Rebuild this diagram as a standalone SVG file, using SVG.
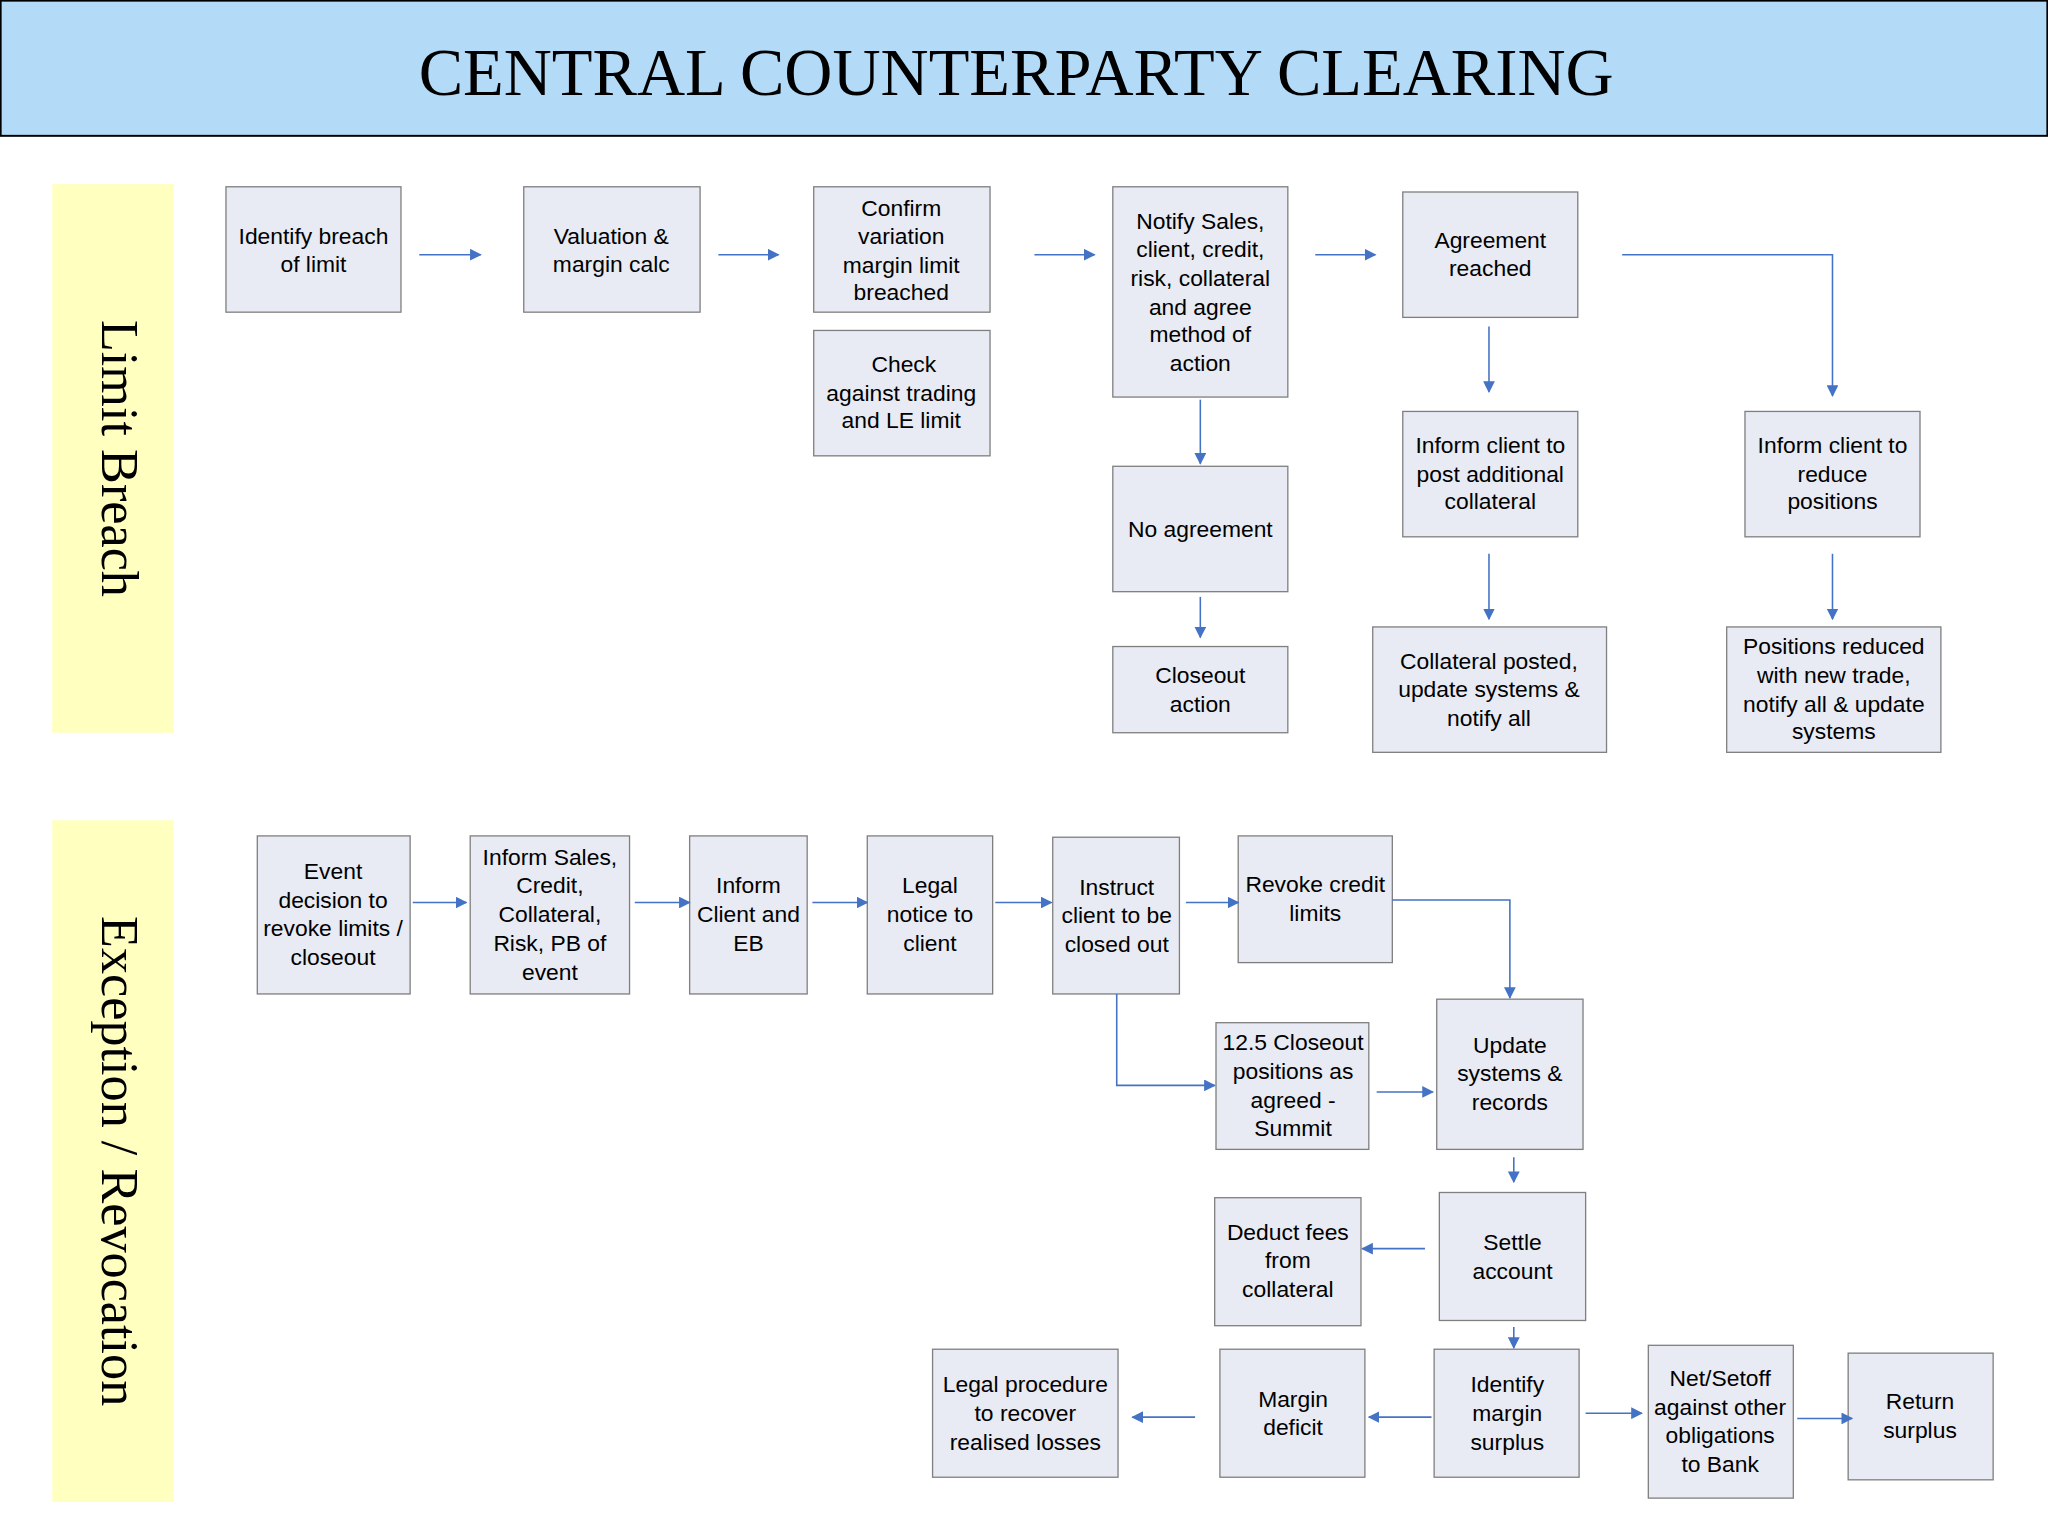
<svg xmlns="http://www.w3.org/2000/svg" width="2048" height="1536" viewBox="0 0 2048 1536">
<defs>
<marker id="a" viewBox="0 0 10 10" refX="9" refY="5" markerWidth="9" markerHeight="9" markerUnits="userSpaceOnUse" orient="auto"><path d="M0,0L10,5L0,10z" fill="#4472c4"/></marker>
<style>
.b{fill:#e8ebf3;stroke:#7f7f7f;stroke-width:1}
.t{font-family:"Liberation Sans",Arial,sans-serif;font-size:17.5px;fill:#000;text-anchor:middle}
.c{fill:none;stroke:#4472c4;stroke-width:1.2;marker-end:url(#a)}
.band{fill:#ffffc0}
.v{font-family:"Liberation Serif","Times New Roman",serif;font-size:40px;text-anchor:middle}
</style>
</defs>
<rect width="2048" height="1536" fill="#fff"/>
<g transform="scale(1.30612)">
<g id="header"><rect x="0.5" y="0.5" width="1567" height="103.5" fill="#b3daf7" stroke="#000" stroke-width="1.5"/>
<text x="778" y="73" style="font-family:'Liberation Serif','Times New Roman',serif;font-size:51px" text-anchor="middle">CENTRAL COUNTERPARTY CLEARING</text></g>
<g id="lane1"><rect class="band" x="40" y="141" width="93" height="420"/><text class="v" transform="translate(78,351) rotate(90)">Limit Breach</text></g>
<g id="lane2"><rect class="band" x="40" y="628" width="93" height="522"/><text class="v" transform="translate(78,889) rotate(90)">Exception / Revocation</text></g>

<g id="n1"><rect class="b" x="173" y="143" width="134" height="96"/><text class="t" x="240" y="187">Identify breach</text><text class="t" x="240" y="208">of limit</text></g>
<g id="n2"><rect class="b" x="401" y="143" width="135" height="96"/><text class="t" x="468" y="187">Valuation &amp;</text><text class="t" x="468" y="208">margin calc</text></g>
<g id="n3"><rect class="b" x="623" y="143" width="135" height="96"/><text class="t" x="690" y="165">Confirm</text><text class="t" x="690" y="187">variation</text><text class="t" x="690" y="209">margin limit</text><text class="t" x="690" y="230">breached</text></g>
<g id="n4"><rect class="b" x="623" y="253" width="135" height="96"/><text class="t" x="692" y="285">Check</text><text class="t" x="690" y="307">against trading</text><text class="t" x="690" y="328">and LE limit</text></g>
<g id="n5"><rect class="b" x="852" y="143" width="134" height="161"/><text class="t" x="919" y="175">Notify Sales,</text><text class="t" x="919" y="197">client, credit,</text><text class="t" x="919" y="219">risk, collateral</text><text class="t" x="919" y="241">and agree</text><text class="t" x="919" y="262">method of</text><text class="t" x="919" y="284">action</text></g>
<g id="n6"><rect class="b" x="1074" y="147" width="134" height="96"/><text class="t" x="1141" y="190">Agreement</text><text class="t" x="1141" y="211">reached</text></g>
<g id="n7"><rect class="b" x="1074" y="315" width="134" height="96"/><text class="t" x="1141" y="347">Inform client to</text><text class="t" x="1141" y="369">post additional</text><text class="t" x="1141" y="390">collateral</text></g>
<g id="n8"><rect class="b" x="1336" y="315" width="134" height="96"/><text class="t" x="1403" y="347">Inform client to</text><text class="t" x="1403" y="369">reduce</text><text class="t" x="1403" y="390">positions</text></g>
<g id="n9"><rect class="b" x="852" y="357" width="134" height="96"/><text class="t" x="919" y="411">No agreement</text></g>
<g id="n10"><rect class="b" x="852" y="495" width="134" height="66"/><text class="t" x="919" y="523">Closeout</text><text class="t" x="919" y="545">action</text></g>
<g id="n11"><rect class="b" x="1051" y="480" width="179" height="96"/><text class="t" x="1140" y="512">Collateral posted,</text><text class="t" x="1140" y="534">update systems &amp;</text><text class="t" x="1140" y="556">notify all</text></g>
<g id="n12"><rect class="b" x="1322" y="480" width="164" height="96"/><text class="t" x="1404" y="501">Positions reduced</text><text class="t" x="1404" y="523">with new trade,</text><text class="t" x="1404" y="545">notify all &amp; update</text><text class="t" x="1404" y="566">systems</text></g>

<g id="e1"><rect class="b" x="197" y="640" width="117" height="121"/><text class="t" x="255" y="673">Event</text><text class="t" x="255" y="695">decision to</text><text class="t" x="255" y="717">revoke limits /</text><text class="t" x="255" y="739">closeout</text></g>
<g id="e2"><rect class="b" x="360" y="640" width="122" height="121"/><text class="t" x="421" y="662">Inform Sales,</text><text class="t" x="421" y="684">Credit,</text><text class="t" x="421" y="706">Collateral,</text><text class="t" x="421" y="728">Risk, PB of</text><text class="t" x="421" y="750">event</text></g>
<g id="e3"><rect class="b" x="528" y="640" width="90" height="121"/><text class="t" x="573" y="684">Inform</text><text class="t" x="573" y="706">Client and</text><text class="t" x="573" y="728">EB</text></g>
<g id="e4"><rect class="b" x="664" y="640" width="96" height="121"/><text class="t" x="712" y="684">Legal</text><text class="t" x="712" y="706">notice to</text><text class="t" x="712" y="728">client</text></g>
<g id="e5"><rect class="b" x="806" y="641" width="97" height="120"/><text class="t" x="855" y="685">Instruct</text><text class="t" x="855" y="707">client to be</text><text class="t" x="855" y="729">closed out</text></g>
<g id="e6"><rect class="b" x="948" y="640" width="118" height="97"/><text class="t" x="1007" y="683">Revoke credit</text><text class="t" x="1007" y="705">limits</text></g>
<g id="e7"><rect class="b" x="931" y="783" width="117" height="97"/><text class="t" x="990" y="804">12.5 Closeout</text><text class="t" x="990" y="826">positions as</text><text class="t" x="990" y="848">agreed -</text><text class="t" x="990" y="870">Summit</text></g>
<g id="e8"><rect class="b" x="1100" y="765" width="112" height="115"/><text class="t" x="1156" y="806">Update</text><text class="t" x="1156" y="828">systems &amp;</text><text class="t" x="1156" y="850">records</text></g>
<g id="e9"><rect class="b" x="930" y="917" width="112" height="98"/><text class="t" x="986" y="949">Deduct fees</text><text class="t" x="986" y="971">from</text><text class="t" x="986" y="993">collateral</text></g>
<g id="e10"><rect class="b" x="1102" y="913" width="112" height="98"/><text class="t" x="1158" y="957">Settle</text><text class="t" x="1158" y="979">account</text></g>
<g id="e11"><rect class="b" x="714" y="1033" width="142" height="98"/><text class="t" x="785" y="1066">Legal procedure</text><text class="t" x="785" y="1088">to recover</text><text class="t" x="785" y="1110">realised losses</text></g>
<g id="e12"><rect class="b" x="934" y="1033" width="111" height="98"/><text class="t" x="990" y="1077">Margin</text><text class="t" x="990" y="1099">deficit</text></g>
<g id="e13"><rect class="b" x="1098" y="1033" width="111" height="98"/><text class="t" x="1154" y="1066">Identify</text><text class="t" x="1154" y="1088">margin</text><text class="t" x="1154" y="1110">surplus</text></g>
<g id="e14"><rect class="b" x="1262" y="1030" width="111" height="117"/><text class="t" x="1317" y="1061">Net/Setoff</text><text class="t" x="1317" y="1083">against other</text><text class="t" x="1317" y="1105">obligations</text><text class="t" x="1317" y="1127">to Bank</text></g>
<g id="e15"><rect class="b" x="1415" y="1036" width="111" height="97"/><text class="t" x="1470" y="1079">Return</text><text class="t" x="1470" y="1101">surplus</text></g>

<g id="connectors">
<path class="c" d="M321,195H368"/><path class="c" d="M550,195H596"/><path class="c" d="M792,195H838"/><path class="c" d="M1007,195H1053"/>
<path class="c" d="M1242,195H1403V303"/><path class="c" d="M1140,250V300"/><path class="c" d="M919,306V355"/><path class="c" d="M919,457V488"/>
<path class="c" d="M1140,424V474"/><path class="c" d="M1403,424V474"/>
<path class="c" d="M316,691H357"/><path class="c" d="M486,691H528"/><path class="c" d="M622,691H664"/><path class="c" d="M762,691H805"/><path class="c" d="M908,691H948"/>
<path class="c" d="M1066,689H1156V764"/><path class="c" d="M855,761V831H930"/><path class="c" d="M1054,836H1097"/><path class="c" d="M1159,886V905"/>
<path class="c" d="M1091,956H1043"/><path class="c" d="M1159,1016V1032"/><path class="c" d="M1096,1085H1048"/><path class="c" d="M915,1085H867"/>
<path class="c" d="M1214,1082H1257"/><path class="c" d="M1376,1086H1418"/>
</g>
</g>
</svg>
